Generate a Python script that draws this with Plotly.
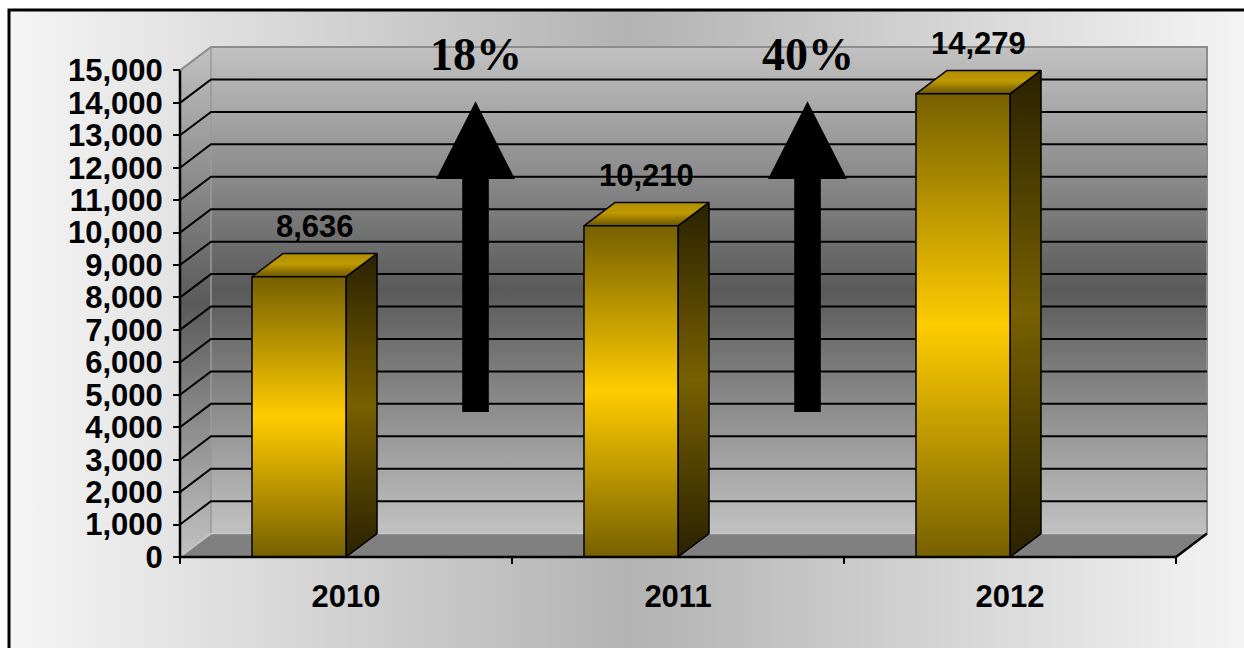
import plotly.graph_objects as go

# ---------------- data ----------------
YEARS = ["2010", "2011", "2012"]
VALUES = [8636, 10210, 14279]
Y_TICKS = [0, 1000, 2000, 3000, 4000, 5000, 6000, 7000, 8000, 9000,
           10000, 11000, 12000, 13000, 14000, 15000]
Y_TICK_TEXT = ["0", "1,000", "2,000", "3,000", "4,000", "5,000", "6,000", "7,000",
               "8,000", "9,000", "10,000", "11,000", "12,000", "13,000", "14,000", "15,000"]

# ---------------- geometry / style ----------------
W, H = 1244, 648
FRONT_LEFT_PX = 180          # pixel x of front value axis
FRONT_BASE_PX = 557          # pixel y of front category axis
CAT_PX = 332                 # pixels per category
VAL_PX = 486.6 / 15000       # pixels per value unit
DEPTH_X_PX, DEPTH_Y_PX = 31, 23.4
PAD = 6

N = len(YEARS)
YMAX = Y_TICKS[-1]
DX = DEPTH_X_PX / CAT_PX
DY = DEPTH_Y_PX / VAL_PX
BAR_W = 94 / CAT_PX

x_lo, x_hi = -PAD / CAT_PX, N + DX + PAD / CAT_PX
y_lo, y_hi = -PAD / VAL_PX, YMAX + DY + PAD / VAL_PX
dom_x = [(FRONT_LEFT_PX - PAD) / W, (FRONT_LEFT_PX + (N + DX) * CAT_PX + PAD) / W]
dom_y = [(H - FRONT_BASE_PX - PAD) / H, (H - FRONT_BASE_PX + (YMAX + DY) * VAL_PX + PAD) / H]

SANS = "Liberation Sans, Arial, sans-serif"
SERIF = "Liberation Serif, Times New Roman, serif"

WALL_SCALE = [[0, "#c2c2c2"], [0.5, "#5a5a5a"], [1, "#c2c2c2"]]
FRONT_SCALE = [[0, "#766000"], [0.5, "#ffcc00"], [1, "#766000"]]
SIDE_SCALE = [[0, "#2a2100"], [0.5, "#776000"], [1, "#2a2100"]]
TOP_SCALE = [[0, "#6a5500"], [0.55, "#c09a00"], [1, "#b08c00"]]

fig = go.Figure()


def poly(xs, ys, scale=None, fillcolor=None, lc="black", lw=1.5, axes=("x2", "y2"), gtype="vertical"):
    kw = dict(x=list(xs) + [xs[0]], y=list(ys) + [ys[0]], mode="lines", fill="toself",
              line=dict(color=lc, width=lw), xaxis=axes[0], yaxis=axes[1],
              hoverinfo="skip", showlegend=False)
    if scale is not None:
        kw["fillgradient"] = dict(type=gtype, colorscale=scale)
    else:
        kw["fillcolor"] = fillcolor
    return go.Scatter(**kw)


def line(xs, ys, color, width):
    return go.Scatter(x=xs, y=ys, mode="lines", line=dict(color=color, width=width),
                      xaxis="x2", yaxis="y2", hoverinfo="skip", showlegend=False)


# page background gradient (pixel coordinates on background axes)
fig.add_trace(poly([9, W + 10, W + 10, 9], [10, 10, H + 10, H + 10],
                   scale=[[0, "#f5f5f5"], [0.5, "#b3b3b3"], [1, "#f5f5f5"]],
                   lw=0, axes=("x", "y"), gtype="horizontal"))

# walls and floor
fig.add_trace(poly([DX, N + DX, N + DX, DX], [DY, DY, YMAX + DY, YMAX + DY], scale=WALL_SCALE, lw=0))
fig.add_trace(poly([0, DX, DX, 0], [0, DY, YMAX + DY, YMAX], scale=WALL_SCALE, lw=0))
fig.add_trace(poly([0, DX, N + DX, N], [0, DY, DY, 0], fillcolor="#808080", lw=0))

# wall edges
fig.add_trace(line([0, DX, N + DX, N + DX], [YMAX, YMAX + DY, YMAX + DY, DY], "#8c8c8c", 2))
fig.add_trace(line([DX, DX], [DY, YMAX + DY], "#9a9a9a", 1.5))
fig.add_trace(line([0, DX, N + DX], [0, DY, DY], "#c8c8c8", 1.5))

# gridlines
gx, gy = [], []
for v in Y_TICKS[1:-1]:
    gx += [0, DX, N + DX, None]
    gy += [v, v + DY, v + DY, None]
fig.add_trace(line(gx, gy, "black", 2))

# bars
for i, v in enumerate(VALUES):
    c = i + 0.5
    xl = c - BAR_W
    fig.add_trace(poly([c, c + DX, c + DX, c], [0, DY, v + DY, v], scale=SIDE_SCALE))
    fig.add_trace(poly([xl, c, c + DX, xl + DX], [v, v, v + DY, v + DY], scale=TOP_SCALE))
    fig.add_trace(poly([xl, c, c, xl], [0, 0, v, v], scale=FRONT_SCALE))
    fig.add_annotation(x=xl + (BAR_W + DX) / 2, y=v + DY, xref="x2", yref="y2",
                       text=f"<b>{v:,}</b>", showarrow=False, yanchor="bottom", yshift=7,
                       font=dict(family=SANS, size=31, color="black"))

# growth arrows
ARROW_TIP, ARROW_HEAD, ARROW_BOTTOM, PCT_Y = 14050, 11650, 4470, 15490
SHAFT_HW, HEAD_HW = 13.3 / CAT_PX, 39.5 / CAT_PX
for i in range(N - 1):
    gap_l = i + 0.5 + DX
    gap_r = i + 1.5 - BAR_W
    ax = (gap_l + gap_r) / 2 - 0.015
    fig.add_trace(poly([ax - SHAFT_HW, ax + SHAFT_HW, ax + SHAFT_HW, ax + HEAD_HW, ax,
                        ax - HEAD_HW, ax - SHAFT_HW],
                       [ARROW_BOTTOM, ARROW_BOTTOM, ARROW_HEAD, ARROW_HEAD, ARROW_TIP,
                        ARROW_HEAD, ARROW_HEAD], fillcolor="black", lw=0))
    pct = round((VALUES[i + 1] / VALUES[i] - 1) * 100)
    fig.add_annotation(x=ax, y=PCT_Y, xref="x2", yref="y2", text=f"<b>{pct}%</b>",
                       showarrow=False, yanchor="middle",
                       font=dict(family=SERIF, size=46, color="black"))

# front axis lines
fig.add_trace(line([0, 0], [0, YMAX], "black", 2.5))
fig.add_trace(line([0, N, N + DX], [0, 0, DY], "black", 2.5))

fig.update_layout(
    template="none",
    width=W, height=H, autosize=False,
    margin=dict(l=0, r=0, t=0, b=0, pad=0, autoexpand=False),
    paper_bgcolor="white", plot_bgcolor="rgba(0,0,0,0)",
    showlegend=False,
    xaxis=dict(domain=[0, 1], range=[0, W], visible=False, fixedrange=True, automargin=False),
    yaxis=dict(domain=[0, 1], range=[H, 0], visible=False, fixedrange=True, automargin=False),
    xaxis2=dict(domain=dom_x, range=[x_lo, x_hi], anchor="free",
                position=(H - FRONT_BASE_PX) / H, automargin=False,
                tickmode="array", tickvals=[i + 0.5 for i in range(N)], ticktext=YEARS,
                ticks="", showgrid=False, zeroline=False, showline=False,
                ticklabelstandoff=18,
                tickfont=dict(family=SANS, size=31, color="black", weight="bold"),
                minor=dict(tickmode="array", tickvals=list(range(N + 1)), ticks="outside",
                           ticklen=6, tickwidth=2, tickcolor="black", showgrid=False),
                fixedrange=True),
    yaxis2=dict(domain=dom_y, range=[y_lo, y_hi], anchor="free",
                position=FRONT_LEFT_PX / W, automargin=False,
                tickmode="array", tickvals=Y_TICKS, ticktext=Y_TICK_TEXT,
                ticks="outside", ticklen=7, tickwidth=2, tickcolor="black",
                showgrid=False, zeroline=False, showline=False, ticklabelstandoff=4,
                tickfont=dict(family=SANS, size=31, color="black", weight="bold"),
                fixedrange=True),
)

fig.add_shape(type="rect", xref="paper", yref="paper", x0=9 / W, y0=-0.05, x1=1.05, y1=1 - 10 / H,
              line=dict(color="black", width=3), fillcolor="rgba(0,0,0,0)", layer="above")

fig.write_html("out.html", config={"displayModeBar": False})
